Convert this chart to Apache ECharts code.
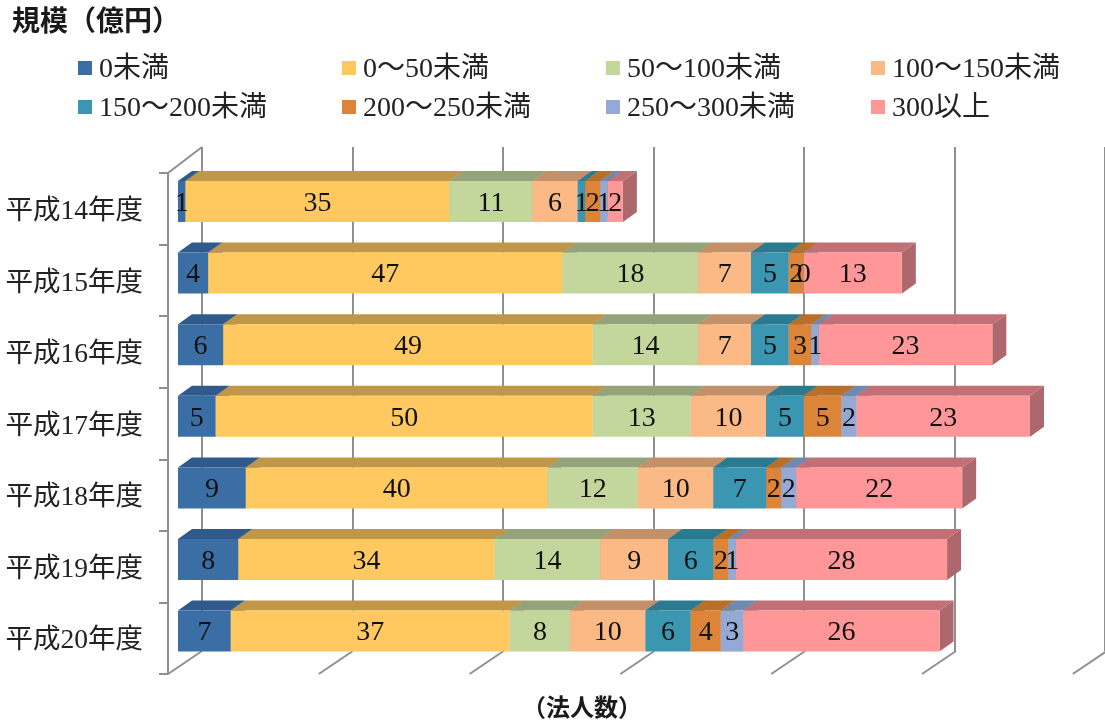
<!DOCTYPE html>
<html>
<head>
<meta charset="utf-8">
<style>html,body{margin:0;padding:0;background:#fff}#c{width:1105px;height:722px}</style>
<script src="https://cdn.jsdelivr.net/npm/echarts@6/dist/echarts.min.js"></script>
</head>
<body>
<div id="c"></div>
<script>
// Fiscal years, top to bottom
const years = ['平成14年度','平成15年度','平成16年度','平成17年度','平成18年度','平成19年度','平成20年度'];

// Number of corporations per size band (億円), one value per fiscal year
const under0     = [1, 4, 6, 5, 9, 8, 7];
const from0      = [35, 47, 49, 50, 40, 34, 37];
const from50     = [11, 18, 14, 13, 12, 14, 8];
const from100    = [6, 7, 7, 10, 10, 9, 10];
const from150    = [1, 5, 5, 5, 7, 6, 6];
const from200    = [2, 2, 3, 5, 2, 2, 4];
const from250    = [1, 0, 1, 2, 2, 1, 3];
const over300    = [2, 13, 23, 23, 22, 28, 26];

const bandNames  = ['0未満','0～50未満','50～100未満','100～150未満','150～200未満','200～250未満','250～300未満','300以上'];
const bandValues = [under0, from0, from50, from100, from150, from200, from250, over300];
const frontFaces = ['#3C6EA6','#FFC95F','#C3D69B','#FAB985','#3A96B1','#DC8538','#95A9D5','#FF9799'];
const topFaces   = ['#2F5A8B','#C09749','#95A37A','#C39067','#2C7A90','#B86F2A','#7189AE','#C27076'];
const sideFaces  = ['#2B5280','#B08A43','#899670','#B3845E','#286F84','#A96626','#687EA0','#AC686C'];
const axisTicks  = [0, 20, 40, 60, 80, 100, 120];

const SERIF = '"Liberation Serif","Noto Sans CJK JP",serif';
const AXIS_GREY = '#8F8F8F';
const UNIT = 7.54;            // pixels per corporation
const BAR_RATIO = 41 / 71.6;  // bar thickness within a category band
const DX = 14, DY = 10;       // oblique offset of a bar's depth

function stackedRows(values, index) {
  return values.map((v, row) => {
    let start = 0;
    for (let i = 0; i < index; i++) start += bandValues[i][row];
    return [start, row, v];
  });
}

// One stacked segment: right side, top and front faces plus its value label
function renderSegment(index) {
  return function (params, api) {
    const start = api.value(0), row = api.value(1), v = api.value(2);
    const a = api.coord([start, row]);
    const b = api.coord([start + v, row]);
    const h = api.size([0, 1])[1] * BAR_RATIO;
    const x0 = a[0], x1 = b[0], top = a[1] - h / 2, bot = a[1] + h / 2;
    const poly = (points, fill) => ({ type: 'polygon', shape: { points }, style: { fill } });
    return {
      type: 'group',
      children: [
        poly([[x1, top], [x1 + DX, top - DY], [x1 + DX, bot - DY], [x1, bot]], sideFaces[index]),
        poly([[x0, top], [x1, top], [x1 + DX, top - DY], [x0 + DX, top - DY]], topFaces[index]),
        poly([[x0, top], [x1, top], [x1, bot], [x0, bot]], frontFaces[index]),
        {
          type: 'text', z2: 50,
          style: {
            x: (x0 + x1) / 2, y: a[1] + 2, text: String(v),
            fill: '#111', font: '28px ' + SERIF,
            align: 'center', verticalAlign: 'middle'
          }
        }
      ]
    };
  };
}

// Floor lines running forward from the back wall, and the left wall's top edge
function renderFrame(params, api) {
  const x = api.coord([api.value(0), 0])[0];
  const line = (x1, y1, x2, y2) => ({
    type: 'line', shape: { x1, y1, x2, y2 }, style: { stroke: AXIS_GREY, lineWidth: 2 }
  });
  const children = [line(x - 10, 674, x + 24, 651)];
  if (api.value(0) === 0) children.push(line(168, 173, 202, 147));
  return { type: 'group', children };
}

const valueAxis = (gridIndex, splitLine) => ({
  type: 'value', gridIndex, min: 0, max: 120, interval: 20,
  axisLabel: { show: false }, axisLine: { show: false }, axisTick: { show: false },
  splitLine: { show: splitLine, lineStyle: { color: AXIS_GREY, width: 2 } }
});

// The swatch sits in the upper part of its icon box so it lines up with the text's optical centre
const SWATCH = 'path://M0 0H14V14H0Z M0 18L0 18Z';

const legendColumn = (left, items) => ({
  left, top: 54, orient: 'vertical', padding: 0, itemGap: 7,
  itemWidth: 14, itemHeight: 18, icon: SWATCH, data: items, selectedMode: false,
  itemStyle: { borderWidth: 0 },
  formatter: '{t|{name}}',
  textStyle: {
    padding: [0, 0, 0, 2],
    rich: { t: { fontFamily: SERIF, fontSize: 28, color: '#222', height: 32, lineHeight: 32 } }
  }
});

const option = {
  animation: false,
  backgroundColor: '#fff',
  title: [
    { text: '規模（億円）', left: 12, top: 10, padding: 0,
      textStyle: { fontFamily: SERIF, fontSize: 28, fontWeight: 'bold', color: '#1a1a1a' } },
    { text: '（法人数）', left: 522, top: 698, padding: 0,
      textStyle: { fontFamily: SERIF, fontSize: 24, fontWeight: 'bold', color: '#1a1a1a' } }
  ],
  legend: [
    legendColumn(78, [bandNames[0], bandNames[4]]),
    legendColumn(342, [bandNames[1], bandNames[5]]),
    legendColumn(606, [bandNames[2], bandNames[6]]),
    legendColumn(871, [bandNames[3], bandNames[7]])
  ],
  grid: [
    { left: 178, top: 165.7, width: 120 * UNIT, height: 501.2 },   // bar plane
    { left: 202, top: 147, width: 120 * UNIT, height: 504 },       // back wall
    { left: 168, top: 173, width: 120 * UNIT, height: 501 },       // front axis line and ticks
    { left: 168, top: 176, width: 120 * UNIT, height: 501 }        // category labels
  ],
  xAxis: [valueAxis(0, false), valueAxis(1, true), valueAxis(2, false), valueAxis(3, false)],
  yAxis: [
    { type: 'category', gridIndex: 0, inverse: true, data: years, show: false },
    { type: 'category', gridIndex: 1, inverse: true, data: years, show: false },
    {
      type: 'category', gridIndex: 2, inverse: true, data: years,
      axisLine: { show: true, lineStyle: { color: AXIS_GREY, width: 2 } },
      axisTick: { show: true, length: 9, lineStyle: { color: AXIS_GREY, width: 2 } },
      axisLabel: { show: false },
      splitLine: { show: false }
    },
    {
      type: 'category', gridIndex: 3, inverse: true, data: years,
      axisLine: { show: false }, axisTick: { show: false }, splitLine: { show: false },
      axisLabel: { show: true, margin: 25, fontFamily: SERIF, fontSize: 27.5, color: '#222' }
    }
  ],
  series: [
    {
      type: 'custom', name: 'frame', xAxisIndex: 0, yAxisIndex: 0, silent: true, z: 1,
      renderItem: renderFrame, encode: { x: 0 }, data: axisTicks.map(v => [v])
    }
  ].concat(bandNames.map((name, i) => ({
    type: 'custom', name, xAxisIndex: 0, yAxisIndex: 0, z: 3,
    itemStyle: { color: frontFaces[i] },
    renderItem: renderSegment(i),
    encode: { x: 0, y: 1 },
    data: stackedRows(bandValues[i], i)
  })))
};

echarts.init(document.getElementById('c'), null, { renderer: 'canvas' }).setOption(option);
</script>
</body>
</html>
